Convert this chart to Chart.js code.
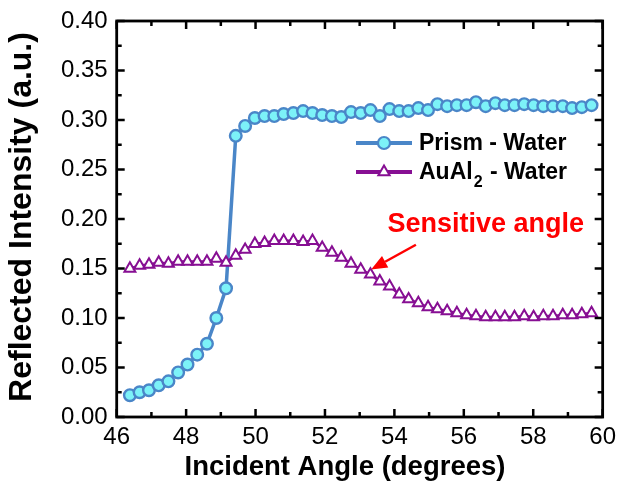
<!DOCTYPE html>
<html>
<head>
<meta charset="utf-8">
<script src="https://cdn.jsdelivr.net/npm/chart.js@4.4.1/dist/chart.umd.min.js"></script>
<style>
  html, body { margin: 0; padding: 0; background: #fff; }
  #wrap { width: 622px; height: 488px; }
</style>
</head>
<body>
<div id="wrap"><canvas id="chart" width="622" height="488"></canvas></div>
<script>
// ─── Data ───
var angles = [
  46.38, 46.66, 46.93, 47.21, 47.49, 47.77, 48.04, 48.32, 48.60, 48.87,
  49.15, 49.43, 49.70, 49.98, 50.26, 50.54, 50.81, 51.09, 51.37, 51.64,
  51.92, 52.20, 52.47, 52.75, 53.03, 53.31, 53.58, 53.86, 54.14, 54.41,
  54.69, 54.97, 55.24, 55.52, 55.80, 56.08, 56.35, 56.63, 56.91, 57.18,
  57.46, 57.74, 58.01, 58.29, 58.57, 58.85, 59.12, 59.40, 59.68
];
var prismWater = [
  0.022, 0.025, 0.027, 0.032, 0.036, 0.045, 0.053, 0.063, 0.074, 0.100,
  0.130, 0.284, 0.294, 0.302, 0.304, 0.304, 0.306, 0.307, 0.309, 0.307,
  0.305, 0.304, 0.303, 0.308, 0.307, 0.310, 0.304, 0.311, 0.309, 0.309,
  0.312, 0.310, 0.316, 0.314, 0.315, 0.315, 0.318, 0.314, 0.317, 0.315,
  0.315, 0.316, 0.315, 0.314, 0.314, 0.314, 0.312, 0.313, 0.315
];
var auAl2Water = [
  0.150, 0.153, 0.154, 0.156, 0.155, 0.157, 0.157, 0.157, 0.157, 0.160,
  0.156, 0.163, 0.169, 0.175, 0.176, 0.178, 0.178, 0.178, 0.177, 0.178,
  0.171, 0.166, 0.161, 0.155, 0.149, 0.144, 0.137, 0.132, 0.124, 0.119,
  0.115, 0.111, 0.109, 0.107, 0.105, 0.103, 0.102, 0.101, 0.101, 0.101,
  0.101, 0.102, 0.101, 0.102, 0.102, 0.103, 0.103, 0.104, 0.105
];
var xMajorTicks = [46, 48, 50, 52, 54, 56, 58, 60];
var xMinorTicks = [47, 49, 51, 53, 55, 57, 59];
var yMajorTicks = [0, 0.05, 0.10, 0.15, 0.20, 0.25, 0.30, 0.35, 0.40];
var yMinorTicks = [0.025, 0.075, 0.125, 0.175, 0.225, 0.275, 0.325, 0.375];

var colors = {
  prismLine: '#4A86C8',
  prismFill: '#7CF2F8',
  purple: '#870F93',
  red: '#FF0000',
  axis: '#000000'
};
var FONT = '"Liberation Sans", Arial, sans-serif';

function toPoints(ys) {
  return angles.map(function (a, i) { return { x: a, y: ys[i] }; });
}

// ─── Frame, inward ticks, titles, legend and annotation ───
var decorPlugin = {
  id: 'decor',
  afterDraw: function (chart) {
    var ctx = chart.ctx;
    var a = chart.chartArea;
    var xs = chart.scales.x;
    var ys = chart.scales.y;
    ctx.save();

    // ticks
    ctx.strokeStyle = colors.axis;
    ctx.lineWidth = 2.5;
    function xTick(v, len) {
      var px = xs.getPixelForValue(v);
      ctx.beginPath();
      ctx.moveTo(px, a.bottom); ctx.lineTo(px, a.bottom - len);
      ctx.moveTo(px, a.top); ctx.lineTo(px, a.top + len);
      ctx.stroke();
    }
    function yTick(v, len) {
      var py = ys.getPixelForValue(v);
      ctx.beginPath();
      ctx.moveTo(a.left, py); ctx.lineTo(a.left + len, py);
      ctx.moveTo(a.right, py); ctx.lineTo(a.right - len, py);
      ctx.stroke();
    }
    xMajorTicks.forEach(function (v) { xTick(v, 8); });
    xMinorTicks.forEach(function (v) { xTick(v, 5); });
    yMajorTicks.forEach(function (v) { yTick(v, 8); });
    yMinorTicks.forEach(function (v) { yTick(v, 5); });

    // frame
    ctx.lineWidth = 2.8;
    ctx.strokeRect(a.left, a.top, a.right - a.left, a.bottom - a.top);

    // axis titles
    ctx.fillStyle = '#000';
    ctx.textAlign = 'center';
    ctx.textBaseline = 'middle';
    ctx.font = 'bold 27.5px ' + FONT;
    ctx.fillText('Incident Angle (degrees)', 345, 467);
    ctx.save();
    ctx.translate(22, 217);
    ctx.rotate(-Math.PI / 2);
    ctx.font = 'bold 32px ' + FONT;
    ctx.fillText('Reflected Intensity (a.u.)', 0, 0);
    ctx.restore();

    // legend
    var lx0 = 356, lx1 = 412, tx = 419;
    var rows = [143, 172];
    ctx.lineWidth = 4;
    ctx.strokeStyle = colors.prismLine;
    ctx.beginPath(); ctx.moveTo(lx0, rows[0]); ctx.lineTo(lx1, rows[0]); ctx.stroke();
    ctx.fillStyle = colors.prismFill;
    ctx.lineWidth = 2.2;
    ctx.beginPath(); ctx.arc((lx0 + lx1) / 2, rows[0], 6, 0, Math.PI * 2); ctx.fill(); ctx.stroke();

    ctx.lineWidth = 4;
    ctx.strokeStyle = colors.purple;
    ctx.beginPath(); ctx.moveTo(lx0, rows[1]); ctx.lineTo(lx1, rows[1]); ctx.stroke();
    var cx = (lx0 + lx1) / 2, r = 6.5;
    ctx.fillStyle = '#fff';
    ctx.lineWidth = 2;
    ctx.beginPath();
    ctx.moveTo(cx, rows[1] - r);
    ctx.lineTo(cx + r * 0.866, rows[1] + r * 0.5);
    ctx.lineTo(cx - r * 0.866, rows[1] + r * 0.5);
    ctx.closePath(); ctx.fill(); ctx.stroke();

    ctx.fillStyle = '#000';
    ctx.textAlign = 'left';
    ctx.font = 'bold 23px ' + FONT;
    ctx.fillText('Prism - Water', tx, rows[0] + 1);
    ctx.fillText('AuAl', tx, rows[1] + 1);
    var w = ctx.measureText('AuAl').width;
    ctx.font = 'bold 16px ' + FONT;
    ctx.fillText('2', tx + w + 1, rows[1] + 11);
    var w2 = ctx.measureText('2').width;
    ctx.font = 'bold 23px ' + FONT;
    ctx.fillText(' - Water', tx + w + w2 + 2, rows[1] + 1);

    // annotation
    ctx.fillStyle = colors.red;
    ctx.strokeStyle = colors.red;
    ctx.font = 'bold 27px ' + FONT;
    ctx.textAlign = 'center';
    ctx.fillText('Sensitive angle', xs.getPixelForValue(56.63), ys.getPixelForValue(0.194));
    var x0 = xs.getPixelForValue(54.62), y0 = ys.getPixelForValue(0.174);
    var x1 = xs.getPixelForValue(53.33), y1 = ys.getPixelForValue(0.149);
    var ang = Math.atan2(y1 - y0, x1 - x0);
    var hl = 16, hw = 6.5;
    var bx = x1 - hl * Math.cos(ang), by = y1 - hl * Math.sin(ang);
    ctx.lineWidth = 2.5;
    ctx.beginPath(); ctx.moveTo(x0, y0); ctx.lineTo(bx, by); ctx.stroke();
    ctx.beginPath();
    ctx.moveTo(x1, y1);
    ctx.lineTo(bx + hw * Math.sin(ang), by - hw * Math.cos(ang));
    ctx.lineTo(bx - hw * Math.sin(ang), by + hw * Math.cos(ang));
    ctx.closePath(); ctx.fill();

    ctx.restore();
  }
};

var ctx = document.getElementById('chart').getContext('2d');
new Chart(ctx, {
  type: 'line',
  data: {
    datasets: [{
      label: 'AuAl2 - Water',
      data: toPoints(auAl2Water),
      borderColor: colors.purple,
      borderWidth: 2.5,
      pointStyle: 'triangle',
      pointRadius: 6.3,
      pointBorderWidth: 2,
      pointBackgroundColor: '#fff',
      pointBorderColor: colors.purple,
      tension: 0
    }, {
      label: 'Prism - Water',
      data: toPoints(prismWater),
      borderColor: colors.prismLine,
      borderWidth: 3.5,
      pointStyle: 'circle',
      pointRadius: 5.8,
      pointBorderWidth: 2.4,
      pointBackgroundColor: colors.prismFill,
      pointBorderColor: colors.prismLine,
      tension: 0
    }]
  },
  options: {
    responsive: false,
    devicePixelRatio: 1,
    animation: false,
    layout: { padding: { left: 0, right: 15, top: 17, bottom: 0 } },
    plugins: {
      legend: { display: false },
      tooltip: { enabled: false }
    },
    scales: {
      x: {
        type: 'linear',
        min: 46,
        max: 60,
        afterBuildTicks: function (s) { s.ticks = xMajorTicks.map(function (v) { return { value: v }; }); },
        afterFit: function (s) { s.height = 71; },
        grid: { display: false, drawTicks: false },
        border: { display: false },
        ticks: {
          color: '#000',
          padding: 6,
          maxRotation: 0,
          font: { family: FONT, size: 24 },
          callback: function (v) { return String(v); }
        }
      },
      y: {
        min: 0,
        max: 0.40,
        afterBuildTicks: function (s) { s.ticks = yMajorTicks.map(function (v) { return { value: v }; }); },
        afterFit: function (s) { s.width = 116.7; },
        grid: { display: false, drawTicks: false },
        border: { display: false },
        ticks: {
          color: '#000',
          padding: 9,
          font: { family: FONT, size: 24, lineHeight: 1 },
          callback: function (v) { return v.toFixed(2); }
        }
      }
    }
  },
  plugins: [decorPlugin]
});
</script>
</body>
</html>
